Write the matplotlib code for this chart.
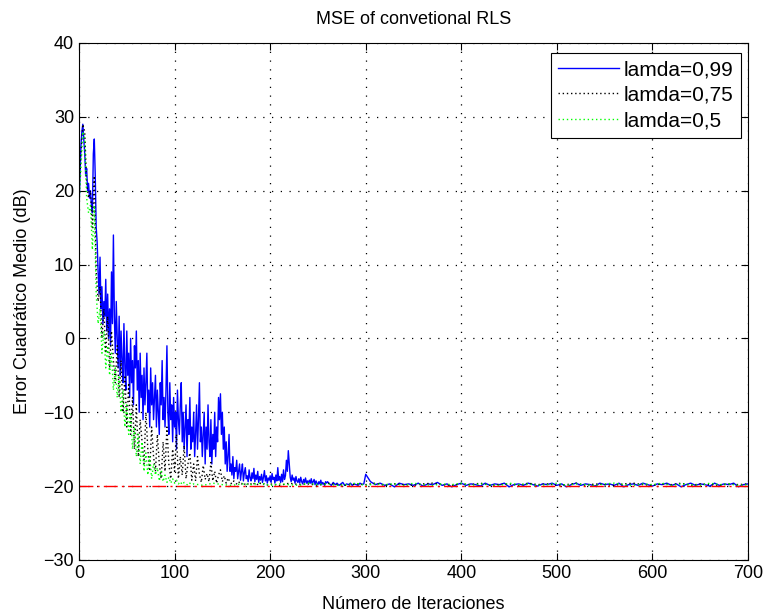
import numpy as np
import matplotlib
matplotlib.use("Agg")
import matplotlib.pyplot as plt

# ---------------- data ----------------
# lamda = 0.99 : iterations 0..259 (step 1), 260..298 (step 2), 300..700 (step 5)
blue_a = [17, 22, 26, 28, 29, 27, 25, 22, 23, 20,
          21, 19, 20, 18, 17, 25, 27, 22, 15, 13,
          9, 6, 11, 4, 7, 2, 5, 3, 8, 1,
          6, 0, 4, -1, 9, 2, 14, 3, -2, 5,
          0, -4, 3, -5, 1, -3, -6, 2, -4, -7,
          1, -5, -2, -8, 0, -6, -3, -9, -1, -4,
          1, -7, -3, -10, -2, -8, -5, -11, -4, -9,
          -6, -2, -10, -7, -12, -4, -9, -6, -11, -8,
          -5, -12, -7, -10, -13, -6, -9, -3, -11, -8,
          -12, -7, -1, -10, -13, -6, -11, -9, -14, -8,
          -12, -10, -15, -7, -11, -13, -9, -6, -14, -10,
          -15, -12, -9, -16, -11, -13, -8, -15, -12, -14,
          -10, -16, -13, -9, -15, -11, -6, -14, -12, -16,
          -13, -10, -17, -12, -15, -9, -14, -16, -11, -17,
          -13, -15, -10, -16, -12, -14, -8, -11, -7.5, -13,
          -10, -15, -12, -17, -14, -18, -16, -13, -18, -17,
          -18.5, -16, -19, -17.5, -18, -16.5, -19, -18, -17, -19.2,
          -18, -17, -19.3, -18.2, -17.5, -19, -18.6, -19.4, -17.8, -18.9,
          -19.3, -18.2, -19, -17.6, -19.4, -18.5, -19.1, -18, -19.5, -18.7,
          -19.2, -18.4, -19.5, -18.8, -17.9, -19.3, -18.6, -19.6, -18.9, -19.2,
          -18.6, -19.5, -18.3, -19.1, -18.8, -19.6, -18.5, -19.3, -17.5, -19.2,
          -18.7, -19.5, -18.4, -19.4, -17.8, -19.1, -18.6, -16.5, -18, -15.2,
          -17, -18.8, -19.4, -18.5, -19.2, -18.9, -19.6, -18.7, -19.3, -19.5,
          -19, -19.6, -18.8, -19.4, -19.7, -19.1, -19.5, -18.9, -19.6, -19.3,
          -19.7, -19.2, -19.6, -19.0, -19.7, -19.4, -19.1, -19.8, -19.3, -19.6,
          -19.8, -19.4, -19.7, -19.2, -19.8, -19.5, -19.7, -19.9, -19.4, -19.6]
blue_b = [-19.4, -19.7, -19.9, -19.5, -19.8, -19.6, -19.9, -19.7, -19.5, -19.9,
          -19.7, -19.8, -19.6, -19.9, -19.7, -19.8, -19.9, -19.6, -19.8, -19.7]
blue_c = [-18.4, -19.4, -19.8, -19.6, -19.9, -19.7, -20.1, -19.6, -19.8, -19.7,
          -19.9, -19.6, -20.0, -19.7, -19.8, -19.5, -19.9, -19.7, -20.1, -19.8,
          -19.6, -19.9, -19.7, -19.8, -20.0, -19.6, -19.9, -19.7, -19.8, -19.6,
          -20.1, -19.8, -19.7, -19.9, -19.6, -19.8, -20.0, -19.7, -19.8, -19.6,
          -19.9, -19.7, -20.1, -19.8, -19.6, -19.9, -19.7, -19.8, -20.0, -19.6,
          -19.8, -19.7, -19.9, -19.6, -20.1, -19.8, -19.7, -19.9, -19.6, -19.8,
          -20.0, -19.7, -19.8, -19.6, -19.9, -19.7, -20.1, -19.8, -19.6, -19.9,
          -19.7, -19.8, -20.0, -19.6, -19.9, -19.7, -19.8, -19.6, -20.1, -19.8,
          -19.7]

# lamda = 0.75 : iterations 0..198 (step 2), 200..700 (step 10)
black_a = [19, 25, 29, 28, 21, 19, 20, 15, 22, 9,
           5, 7, 0, 4, -2, 3, -4, 1, -3, -6,
           -1, -8, -3, -10, -5, -12, -6, -13, -8, -15,
           -9, -16, -11, -14, -17, -10, -15, -18, -12, -16,
           -18, -13, -17, -19, -14, -18, -12, -17, -19, -15,
           -18, -13, -19, -16, -18.5, -14.5, -19, -17, -15.5, -19.2,
           -17, -19.3, -16, -18.4, -19.5, -17.2, -19.1, -18.3, -19.4, -16.8,
           -19.3, -18, -19.6, -18.5, -17.8, -19.4, -18.6, -19.6, -18.9, -19.5,
           -19.7, -19.3, -19.6, -19.8, -19.4, -19.7, -19.5, -19.8, -19.6, -19.9,
           -19.7, -19.5, -19.8, -19.7, -19.9, -19.6, -19.8, -19.7, -19.9, -19.8]
black_b = [-19.7, -19.9, -19.6, -19.8, -19.7, -19.9, -19.6, -19.8, -19.9, -19.7,
           -19.8, -19.6, -19.9, -19.7, -19.8, -19.9, -19.7, -19.6, -19.8, -19.9,
           -19.7, -19.8, -19.6, -19.9, -19.8, -19.7, -19.9, -19.6, -19.8, -19.7,
           -19.9, -19.8, -19.6, -19.9, -19.7, -19.8, -19.9, -19.7, -19.6, -19.8,
           -19.9, -19.7, -19.8, -19.6, -19.9, -19.7, -19.8, -19.9, -19.7, -19.8,
           -19.7]

# lamda = 0.5 : iterations 0..118 (step 2), 120..700 (step 10)
green_a = [18, 23, 28, 27, 19, 17, 18, 12, 18, 6,
           2, 4, -2, 1, -4, -1, -5, -2, -7, -4,
           -8, -5, -10, -7, -12, -9, -13, -10, -15, -12,
           -16, -13, -17, -14, -18, -15.5, -18.5, -16, -19, -17,
           -18.5, -17.5, -19.3, -18, -19.4, -18.5, -19.5, -18.8, -19.6, -19,
           -19.6, -19.2, -19.7, -19.4, -19.8, -19.5, -19.7, -19.9, -19.6, -19.8]
green_b = [-19.7, -19.9, -19.6, -19.8, -19.9, -19.7, -19.8, -19.6, -19.9, -19.7,
           -19.8, -19.9, -19.6, -19.8, -19.7, -19.9, -19.8, -19.6, -19.9, -19.7,
           -19.8, -19.7, -19.9, -19.6, -19.8, -19.9, -19.7, -19.8, -19.6, -19.9,
           -19.7, -19.8, -19.9, -19.6, -19.8, -19.7, -19.9, -19.8, -19.6, -19.9,
           -19.7, -19.8, -19.9, -19.7, -19.6, -19.8, -19.9, -19.7, -19.8, -19.6,
           -19.9, -19.7, -19.8, -19.9, -19.6, -19.8, -19.7, -19.9, -19.8]

noise_floor = -20
labels = ["lamda=0,99", "lamda=0,75", "lamda=0,5"]
xticks = [0, 100, 200, 300, 400, 500, 600, 700]
yticks = [-30, -20, -10, 0, 10, 20, 30, 40]

# ---------------- plot ----------------
plt.rcParams['font.family'] = ['Liberation Sans', 'DejaVu Sans']
plt.rcParams['font.size'] = 12

fig = plt.figure(figsize=(7.64, 6.14), dpi=100)
ax = fig.add_axes([0.1034, 0.088, 0.8757, 0.842])

it_blue = np.concatenate([np.arange(0, 260, 1), np.arange(260, 300, 2), np.arange(300, 701, 5)])
it_black = np.concatenate([np.arange(0, 200, 2), np.arange(200, 701, 10)])
it_green = np.concatenate([np.arange(0, 120, 2), np.arange(120, 701, 10)])

ax.plot(it_blue, blue_a + blue_b + blue_c, color='#0000ff', lw=1.0, label=labels[0])
ax.plot(it_black, black_a + black_b, color='black', lw=1.0, ls=(0, (1, 2)), label=labels[1])
ax.plot(it_green, green_a + green_b, color='#00ff00', lw=1.0, ls=(0, (1, 2)), label=labels[2])
ax.plot([xticks[0], xticks[-1]], [noise_floor, noise_floor], color='red', lw=1.0,
        ls=(0, (10, 3, 1.5, 3)))

ax.set_xlim(0, 700)
ax.set_ylim(-30, 40)
ax.set_xticks(xticks)
ax.set_yticks(yticks)
ax.grid(True, color='black', ls=(0, (1, 6)), lw=0.9)
ax.tick_params(direction='in', top=True, right=True, length=5, width=0.8, labelsize=13)
for s in ax.spines.values():
    s.set_linewidth(0.8)

ax.set_title("MSE of convetional RLS", fontsize=13, pad=14)
ax.set_xlabel("Número de Iteraciones", fontsize=13, labelpad=10)
ax.set_ylabel("Error Cuadrático Medio (dB)", fontsize=13, labelpad=9)

leg = ax.legend(loc='upper right', bbox_to_anchor=(0.9895, 0.981), fontsize=15,
                frameon=True, fancybox=False, edgecolor='black', framealpha=1,
                handlelength=2.9, borderpad=0.35, labelspacing=0.32, handletextpad=0.25,
                borderaxespad=0)
leg.get_frame().set_linewidth(0.8)

fig.savefig("out.png", dpi=100)
